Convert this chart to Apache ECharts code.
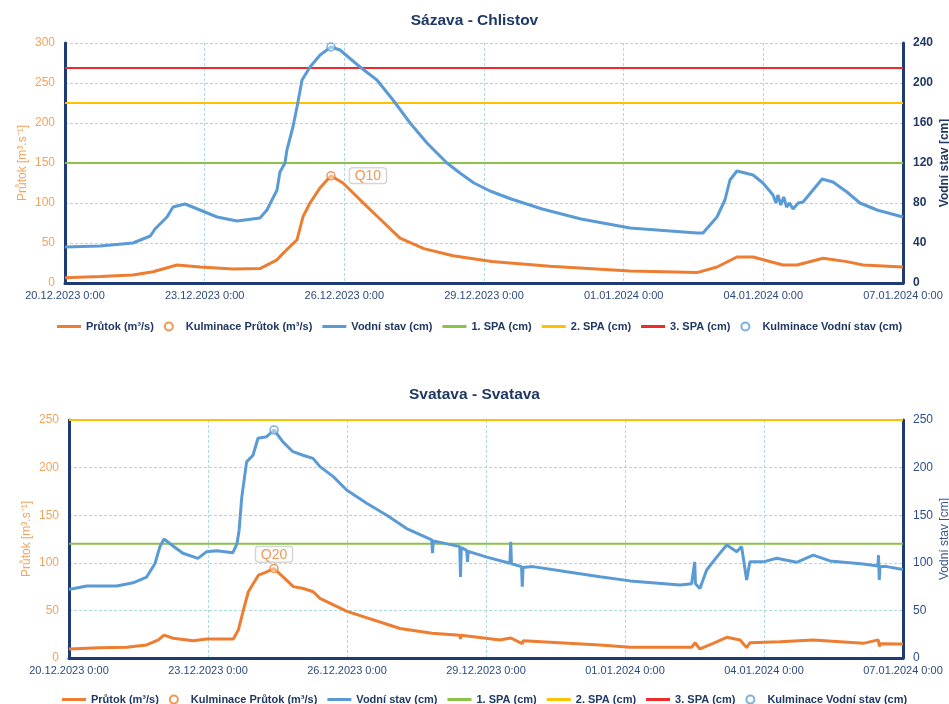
<!DOCTYPE html>
<html>
<head>
<meta charset="utf-8">
<script src="https://cdn.jsdelivr.net/npm/echarts@6/dist/echarts.min.js"></script>
<style>
  html, body { margin: 0; padding: 0; background: #fff; }
  #chart { width: 949px; height: 704px; }
</style>
</head>
<body>
<div id="chart"></div>
<script>
// Time axis: hours since 20.12.2023 0:00, ticks every 3 days
const dateTicks = ['20.12.2023 0:00', '23.12.2023 0:00', '26.12.2023 0:00', '29.12.2023 0:00',
                   '01.01.2024 0:00', '04.01.2024 0:00', '07.01.2024 0:00'];
const tickStepHours = 72;
const spanHours = 432;

// Sázava - Chlistov: [hour, value]
const sazavaFlow = [[0,6.7],[18,8],[35,10],[45.4,14],[57.7,22.5],[69.6,20],[86.6,17.5],[100.5,18],
  [109.3,29],[112.4,37],[119.6,54],[122.7,83],[126.3,100],[131.5,119],[137.1,134],[143.3,125],
  [152.1,104],[162.4,80],[172.7,56],[185,43],[200,34],[220,27],[250,21],[291.3,15],[325.8,13],
  [336.1,20],[346.4,32.5],[354.7,32.5],[370.1,22.5],[377.4,22.5],[390.8,31],[403.1,26.7],[411.4,22.5],[432,20]];
const sazavaStage = [[0,36],[18,37],[35,40],[44,47],[46.4,54],[52.6,66],[55.7,76],[61.9,79],[69.6,73],
  [78.4,66],[88.7,62],[100.5,65],[104.1,73],[109.3,93],[110.8,111],[113.4,120],[114.4,133],[117.5,156],
  [119.6,176],[122.2,203],[126.3,216],[131.5,228],[137.1,236],[141.8,233],[152.1,216],[160.8,203],
  [169.1,183],[177.9,160],[186.6,140],[196.9,120],[203.6,110],[210.8,100],[219.1,92],[230,84],[246,74],
  [266,64],[291.3,55],[325.8,50],[328.9,50],[336.1,66],[340.2,83],[342.8,103],[346.4,112],[350.6,110],
  [354.7,108],[359.8,100],[365,88],[366.5,80],[367.5,88],[369,78],[370.5,86],[372,76],[373.5,80],
  [375.3,74],[378,80],[380.5,81],[385.6,93],[390.3,104],[395.9,101],[403.1,91],[409.8,80],[418.6,73],[432,66]];
const sazavaSpa = [120, 180, 215];
const sazavaPeakHour = 137.1;
const sazavaPeakFlow = 134;
const sazavaPeakStage = 236;
const sazavaPeakTag = 'Q10';

// Svatava - Svatava: [hour, value]
const svatavaFlow = [[0,9.5],[16.1,10.8],[29.9,11.2],[40.2,13.7],[46.3,19],[49.2,24],[54,20.7],[64.4,18.2],
  [71.3,20],[85.1,20],[87.7,29.4],[90.3,50],[92.9,69.6],[98.1,87],[101.5,89.6],[106.2,94],[111,85],
  [116.2,75],[121.4,73],[126.5,69.6],[130,62.7],[144,49],[171.5,31],[188,26],[202.4,24],[202.8,20],
  [203.2,24],[223.2,19],[228.8,21],[229.2,19],[234.8,15],[235.2,18],[275,13.7],[290.6,11.2],[322.5,11.2],
  [324.3,16],[326.8,9.5],[333.7,15.4],[340.7,21.7],[347.6,19],[351,11],[352.7,16],[368.3,17],[385.5,19],
  [411.4,15.4],[419.2,19],[419.8,12],[420.3,15],[432,14.7]];
const svatavaStage = [[0,72],[9.2,75.6],[24.7,75.6],[33.2,79],[40.2,85],[44.5,99],[47.1,117],[49.2,125],
  [53.2,118.7],[59,110],[66.8,104.7],[71.3,111.7],[76.5,112.7],[84.9,110.6],[87,120],[88.1,134],[89.5,169],
  [92,206],[95.3,213],[97.9,230.8],[102.4,232.5],[106.2,239.5],[110.8,227],[116,216.7],[121.2,213],
  [126.4,209.7],[130,201],[136.9,190.5],[143.8,176.5],[154.2,162.5],[164.6,150],[174.9,136],[187.9,124],
  [188.3,110],[188.7,123],[202.4,117],[202.8,85],[203.2,116],[206,113],[206.4,101],[206.8,112],[216.4,106],
  [228.4,99.5],[228.8,122],[229.2,99],[234.4,96],[234.8,75],[235.2,95],[240.3,96],[257.8,90.6],[275,85.4],
  [290.6,81],[316.5,76.7],[322.5,78],[324.1,101],[324.5,78],[326.8,73],[330.3,92.4],[335.5,106],
  [340.7,118.7],[345.9,111.7],[348.4,117],[351,82],[352.7,101],[359.6,101],[366.6,104.7],[376.9,100.5],
  [385.5,108],[394.2,102],[411.4,98.7],[419,96.6],[419.3,108],[419.7,82],[420.1,96],[423.6,96],[432,93]];
const svatavaSpa = [120, 250, 290];
const svatavaPeakHour = 106.2;
const svatavaPeakFlow = 94;
const svatavaPeakStage = 239.5;
const svatavaPeakTag = 'Q20';

const FONT = '"Liberation Sans", Arial, sans-serif';
const COL = {
  flow: '#ED7D31', stage: '#5B9BD5', spa1: '#8DC149', spa2: '#FFC000', spa3: '#EE2B2B',
  axis: '#1F3B73', grid: '#A9DAE6', text: '#203864', flowLabel: '#F4A25B'
};
const NAMES = ['Průtok (m³/s)', 'Kulminace Průtok (m³/s)', 'Vodní stav (cm)',
               '1. SPA (cm)', '2. SPA (cm)', '3. SPA (cm)', 'Kulminace Vodní stav (cm)'];
// flat bar used as the legend key of line series
const LINE_ICON = 'path://M0,0H8V1H0Z';

const chart = echarts.init(document.getElementById('chart'), null, { renderer: 'canvas' });

function panel(i, p) {
  const xAxis = {
    type: 'value', gridIndex: i, min: 0, max: spanHours, interval: tickStepHours,
    axisLine: { show: true, lineStyle: { color: COL.axis, width: 3 } },
    axisTick: { show: false },
    axisLabel: {
      color: '#2E4A7E', fontFamily: FONT, fontSize: 11, margin: 7, hideOverlap: false,
      showMinLabel: true, showMaxLabel: true,
      formatter: v => dateTicks[Math.round(v / tickStepHours)]
    },
    splitLine: { show: true, lineStyle: { color: COL.grid, type: [3, 2], width: 1 } }
  };
  const yLeft = {
    type: 'value', gridIndex: i, min: 0, max: p.flowMax, interval: p.flowStep, position: 'left',
    name: 'Průtok [m³.s⁻¹]', nameLocation: 'middle', nameGap: 36, nameMoveOverlap: false,
    nameTextStyle: { color: COL.flowLabel, fontFamily: FONT, fontSize: 12 },
    axisLine: { show: true, lineStyle: { color: COL.axis, width: 3 } },
    axisTick: { show: false },
    axisLabel: { color: COL.flowLabel, fontFamily: FONT, fontSize: 12, margin: 10 },
    splitLine: { show: true, lineStyle: { color: COL.grid, type: [3, 2], width: 1 } }
  };
  const yRight = {
    type: 'value', gridIndex: i, min: 0, max: p.stageMax, interval: p.stageStep, position: 'right',
    name: 'Vodní stav [cm]', nameLocation: 'middle', nameGap: 36, nameMoveOverlap: false,
    nameTextStyle: { color: p.stageNameColor, fontFamily: FONT, fontSize: 12, fontWeight: p.stageWeight },
    axisLine: { show: true, lineStyle: { color: COL.axis, width: 3 } },
    axisTick: { show: false },
    axisLabel: { color: p.stageLabelColor, fontFamily: FONT, fontSize: 12, fontWeight: p.stageWeight, margin: 10 },
    splitLine: { show: false }
  };
  const xi = i, yl = i * 2, yr = i * 2 + 1;
  const lineBase = { type: 'line', xAxisIndex: xi, symbol: 'none', showSymbol: false, animation: false };
  const spaLine = (name, v, color) => Object.assign({}, lineBase, {
    name, yAxisIndex: yr, z: 1, data: [[0, v], [spanHours, v]],
    lineStyle: { color, width: 2.2 }, itemStyle: { color }
  });
  const series = [
    Object.assign({}, lineBase, {
      name: NAMES[0], yAxisIndex: yl, z: 3, data: p.flow,
      lineStyle: { color: COL.flow, width: 3 }, itemStyle: { color: COL.flow }
    }),
    {
      type: 'scatter', name: NAMES[1], xAxisIndex: xi, yAxisIndex: yl, z: 5, animation: false,
      symbol: 'circle', symbolSize: 8, data: [[p.peakHour, p.peakFlow]],
      itemStyle: { color: 'rgba(255,255,255,0.55)', borderColor: COL.flow, borderWidth: 1.5 },
      label: {
        show: true, formatter: p.peakTag, position: p.tagPos, distance: p.tagDist,
        color: COL.flow, fontFamily: FONT, fontSize: 14,
        backgroundColor: '#fff', borderColor: '#BFBFBF', borderWidth: 1, borderRadius: 3,
        padding: [1, 5, 0, 5]
      }
    },
    Object.assign({}, lineBase, {
      name: NAMES[2], yAxisIndex: yr, z: 3, data: p.stage,
      lineStyle: { color: COL.stage, width: 3 }, itemStyle: { color: COL.stage }
    }),
    spaLine(NAMES[3], p.spa[0], COL.spa1),
    spaLine(NAMES[4], p.spa[1], COL.spa2),
    spaLine(NAMES[5], p.spa[2], COL.spa3),
    {
      type: 'scatter', name: NAMES[6], xAxisIndex: xi, yAxisIndex: yr, z: 5, animation: false,
      symbol: 'circle', symbolSize: 8, data: [[p.peakHour, p.peakStage]],
      itemStyle: { color: 'rgba(255,255,255,0.55)', borderColor: COL.stage, borderWidth: 1.5 }
    }
  ];
  const title = {
    text: p.title, left: 'center', top: p.titleTop,
    textStyle: { color: '#1F3864', fontFamily: FONT, fontSize: 15.5, fontWeight: 'bold' }
  };
  const legend = {
    left: p.legendLeft, top: p.legendTop, itemWidth: 24, itemHeight: 8, itemGap: 10,
    symbolKeepAspect: true,
    textStyle: { color: COL.text, fontFamily: FONT, fontSize: 11, fontWeight: 'bold' },
    data: NAMES.map((n, k) => (k === 1 || k === 6) ? { name: n } : { name: n, icon: LINE_ICON })
  };
  return { grid: p.grid, xAxis, yAxis: [yLeft, yRight], series, title, legend };
}

const panels = [
  panel(0, {
    title: 'Sázava - Chlistov', titleTop: 8,
    grid: { left: 65, top: 43, width: 838, height: 240 },
    flowMax: 300, flowStep: 50, stageMax: 240, stageStep: 40,
    stageLabelColor: COL.text, stageNameColor: COL.text, stageWeight: 'bold',
    flow: sazavaFlow, stage: sazavaStage, spa: sazavaSpa,
    peakHour: sazavaPeakHour, peakFlow: sazavaPeakFlow, peakStage: sazavaPeakStage,
    peakTag: sazavaPeakTag, tagPos: 'right', tagDist: 14,
    legendLeft: 52, legendTop: 316
  }),
  panel(1, {
    title: 'Svatava - Svatava', titleTop: 382,
    grid: { left: 69, top: 420, width: 834, height: 238 },
    flowMax: 250, flowStep: 50, stageMax: 250, stageStep: 50,
    stageLabelColor: '#2F4E8C', stageNameColor: '#34559A', stageWeight: 'normal',
    flow: svatavaFlow, stage: svatavaStage, spa: svatavaSpa,
    peakHour: svatavaPeakHour, peakFlow: svatavaPeakFlow, peakStage: svatavaPeakStage,
    peakTag: svatavaPeakTag, tagPos: 'top', tagDist: 2,
    legendLeft: 57, legendTop: 689
  })
];

chart.setOption({
  animation: false,
  backgroundColor: '#fff',
  title: panels.map(p => p.title),
  legend: panels.map(p => p.legend),
  grid: panels.map(p => Object.assign({ containLabel: false, outerBoundsMode: 'none' }, p.grid)),
  xAxis: panels.map(p => p.xAxis),
  yAxis: panels.flatMap(p => p.yAxis),
  series: panels.flatMap(p => p.series)
});
</script>
</body>
</html>
